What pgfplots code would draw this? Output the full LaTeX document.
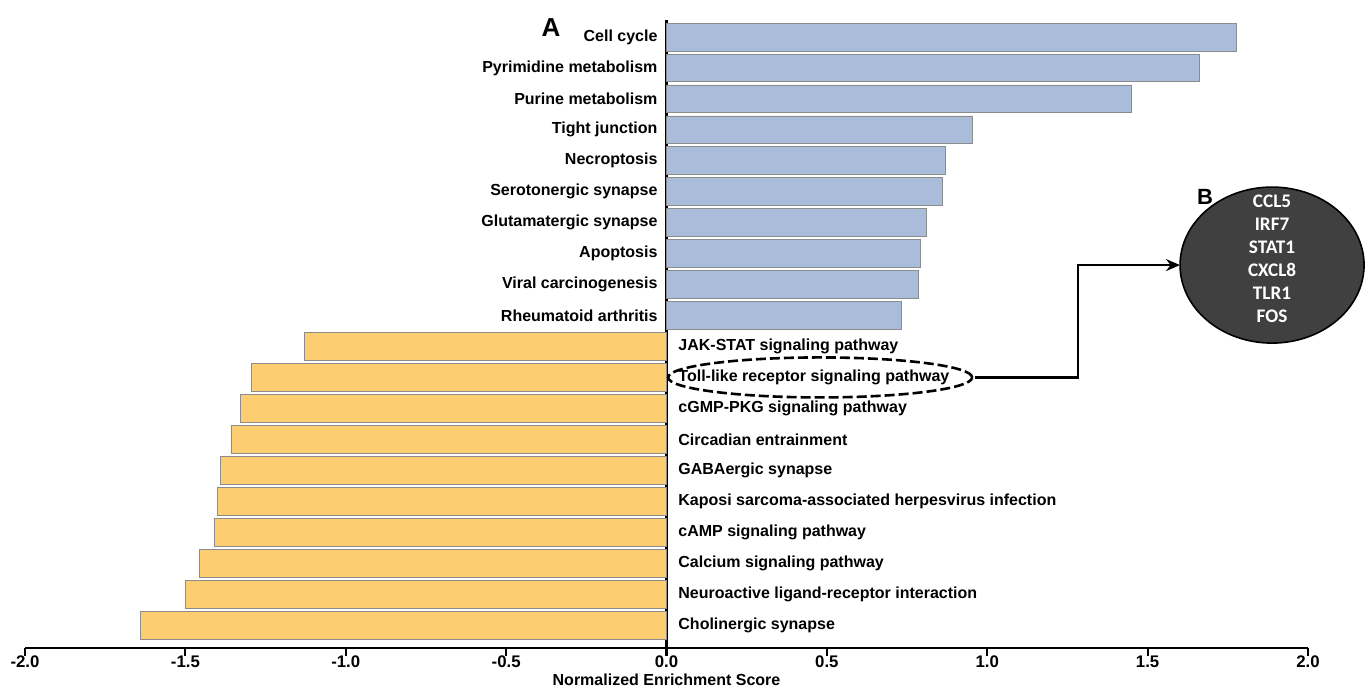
\documentclass[border=0pt]{standalone}
\usepackage{pgfplots}
\pgfplotsset{compat=1.18}
\usepackage{pgfplotstable}
\usepackage{fontspec}
\setmainfont{Liberation Sans}
\newfontfamily\genefont{Carlito}
\usetikzlibrary{arrows.meta}

\definecolor{upblue}{RGB}{169,188,217}
\definecolor{downorange}{RGB}{253,205,114}
\definecolor{nodegray}{RGB}{64,64,64}

% row index (19 = top) and normalized enrichment score
\pgfplotstableread{
row value
19 1.776
18 1.663
17 1.448
16 0.955
15 0.871
14 0.859
13 0.809
12 0.793
11 0.784
10 0.731
}\upregulated
\pgfplotstableread{
row value
9 -1.130
8 -1.295
7 -1.327
6 -1.358
5 -1.392
4 -1.401
3 -1.411
2 -1.455
1 -1.501
0 -1.639
}\downregulated

\begin{document}
\begin{tikzpicture}
\begin{axis}[
  scale only axis,
  width=641.5bp, height=314bp,
  xmin=-2, xmax=2, ymin=-0.74, ymax=19.55,
  axis x line=bottom, axis y line=middle,
  axis line style={-, line width=1.2bp, black},
  xtick={-2,-1.5,...,2}, ytick=\empty,
  tick align=outside, major tick length=4bp,
  tick style={line width=1.1bp, black},
  /pgf/number format/assume math mode=true,
  xticklabel style={font=\fontsize{8.4bp}{10bp}\selectfont\bfseries, yshift=3.5bp},
  xticklabel={\pgfmathprintnumber[fixed,fixed zerofill,precision=1]{\tick}},
  clip=false,
  xbar, bar width=0.9, bar shift=0pt,
]
\addplot[fill=upblue, draw=black!45, line width=0.4bp] table[x=value, y=row] {\upregulated};
\addplot[fill=downorange, draw=black!45, line width=0.4bp] table[x=value, y=row] {\downregulated};

\begin{scope}[every node/.style={font=\fontsize{8bp}{9.6bp}\selectfont\bfseries, inner sep=0pt}]
\node[anchor=east] at (axis cs:-0.027,19) {Cell cycle};
\node[anchor=east] at (axis cs:-0.027,18) {Pyrimidine metabolism};
\node[anchor=east] at (axis cs:-0.027,17) {Purine metabolism};
\node[anchor=east] at (axis cs:-0.027,16) {Tight junction};
\node[anchor=east] at (axis cs:-0.027,15) {Necroptosis};
\node[anchor=east] at (axis cs:-0.027,14) {Serotonergic synapse};
\node[anchor=east] at (axis cs:-0.027,13) {Glutamatergic synapse};
\node[anchor=east] at (axis cs:-0.027,12) {Apoptosis};
\node[anchor=east] at (axis cs:-0.027,11) {Viral carcinogenesis};
\node[anchor=east] at (axis cs:-0.027,10) {Rheumatoid arthritis};
\node[anchor=west] at (axis cs:0.036,9) {JAK-STAT signaling pathway};
\node[anchor=west] at (axis cs:0.036,8) {Toll-like receptor signaling pathway};
\node[anchor=west] at (axis cs:0.036,7) {cGMP-PKG signaling pathway};
\node[anchor=west] at (axis cs:0.036,6) {Circadian entrainment};
\node[anchor=west] at (axis cs:0.036,5) {GABAergic synapse};
\node[anchor=west] at (axis cs:0.036,4) {Kaposi sarcoma-associated herpesvirus infection};
\node[anchor=west] at (axis cs:0.036,3) {cAMP signaling pathway};
\node[anchor=west] at (axis cs:0.036,2) {Calcium signaling pathway};
\node[anchor=west] at (axis cs:0.036,1) {Neuroactive ligand-receptor interaction};
\node[anchor=west] at (axis cs:0.036,0) {Cholinergic synapse};
\node[anchor=north] at (axis cs:0,-1.55) {Normalized Enrichment Score};
\end{scope}

% panel letters
\node[font=\fontsize{13bp}{14bp}\selectfont\bfseries] at (axis cs:-0.36,19.29) {A};
\node[font=\fontsize{11bp}{12bp}\selectfont\bfseries] at (axis cs:1.679,13.83) {B};

% highlighted pathway and its leading-edge genes
\draw[line width=1.3bp, dash pattern=on 5bp off 2bp] (axis cs:0.479,8) ellipse[x radius=76bp, y radius=10bp];
\draw[line width=1.2bp, -{Stealth[length=7bp, width=6bp]}]
  (axis cs:0.962,8) -- (axis cs:1.283,8) -- (axis cs:1.283,11.63) -- (axis cs:1.601,11.63);
\draw[fill=nodegray, draw=black, line width=0.8bp] (axis cs:1.888,11.63) ellipse[x radius=46bp, y radius=39bp];
\node[text=white, align=center, font=\genefont\bfseries\fontsize{9.6bp}{11.55bp}\selectfont] at (axis cs:1.888,11.84)
  {CCL5\\IRF7\\STAT1\\CXCL8\\TLR1\\FOS};

\coordinate (bl) at (axis cs:-2.078,-1.969);
\coordinate (tr) at (axis cs:2.184,20.195);
\end{axis}
\pgfresetboundingbox
\useasboundingbox (bl) rectangle (tr);
\end{tikzpicture}
\end{document}
